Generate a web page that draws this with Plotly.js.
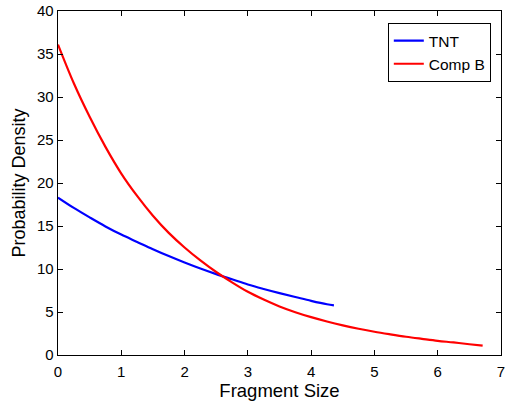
<!DOCTYPE html>
<html>
<head>
<meta charset="utf-8">
<script src="https://cdn.plot.ly/plotly-3.0.1.min.js"></script>
<style>html,body{margin:0;padding:0;background:#fff;}#chart{width:505px;height:405px;}</style>
</head>
<body>
<div id="chart"></div>
<script>
const tntX = [0, 0.25, 0.5, 0.75, 1, 1.25, 1.5, 1.75, 2, 2.25, 2.5, 2.75, 3, 3.25, 3.5, 3.75, 4, 4.25, 4.36];
const tntY = [18.3, 17.1, 16.0, 14.95, 14.0, 13.15, 12.3, 11.5, 10.75, 10.05, 9.4, 8.8, 8.2, 7.68, 7.2, 6.75, 6.3, 5.9, 5.77];
const compBX = [0, 0.25, 0.5, 0.75, 1, 1.25, 1.5, 1.75, 2, 2.25, 2.5, 2.75, 3, 3.25, 3.5, 3.75, 4, 4.25, 4.5, 4.75, 5, 5.25, 5.5, 5.75, 6, 6.25, 6.5, 6.71];
const compBY = [36.1, 31.6, 27.7, 24.2, 21.1, 18.5, 16.2, 14.2, 12.5, 11.0, 9.65, 8.45, 7.35, 6.45, 5.65, 4.98, 4.4, 3.9, 3.45, 3.05, 2.7, 2.4, 2.12, 1.88, 1.65, 1.46, 1.25, 1.08];
const seriesNames = ['TNT', 'Comp B'];
const xTicks = [0, 1, 2, 3, 4, 5, 6, 7];
const yTicks = [0, 5, 10, 15, 20, 25, 30, 35, 40];

const font = 'Liberation Sans, Arial, Helvetica, sans-serif';
const traces = [
  {x: tntX, y: tntY, name: seriesNames[0], mode: 'lines', line: {color: '#0000ff', width: 2.2, shape: 'spline', smoothing: 1}},
  {x: compBX, y: compBY, name: seriesNames[1], mode: 'lines', line: {color: '#ff0000', width: 2.2, shape: 'spline', smoothing: 1}}
];
const axisCommon = {
  showline: true, linecolor: '#000', linewidth: 1.3, mirror: 'ticks',
  ticks: 'inside', ticklen: 5, tickwidth: 1, tickcolor: '#000',
  showgrid: false, zeroline: false, ticklabeloverflow: 'allow',
  tickfont: {family: font, size: 15, color: '#000'}
};
const layout = {
  width: 505, height: 405,
  margin: {l: 58, r: 4, t: 10.5, b: 50},
  paper_bgcolor: '#fff', plot_bgcolor: '#fff',
  showlegend: true,
  xaxis: Object.assign({}, axisCommon, {
    range: [0, 7], tickvals: xTicks, ticktext: xTicks.map(String),
    ticklabelstandoff: 3,
    title: {text: 'Fragment Size', font: {family: font, size: 18.5, color: '#000'}, standoff: 4}
  }),
  yaxis: Object.assign({}, axisCommon, {
    range: [0, 40], tickvals: yTicks, ticktext: yTicks.map(String),
    title: {text: 'Probability Density', font: {family: font, size: 18, color: '#000'}, standoff: 6}
  }),
  legend: {
    x: 0.977, xanchor: 'right', y: 0.965, yanchor: 'top',
    bgcolor: '#fff', bordercolor: '#000', borderwidth: 1,
    font: {family: font, size: 15.5, color: '#000'},
    tracegroupgap: 0, itemwidth: 30
  }
};
Plotly.newPlot('chart', traces, layout, {displayModeBar: false, staticPlot: true});
</script>
</body>
</html>
